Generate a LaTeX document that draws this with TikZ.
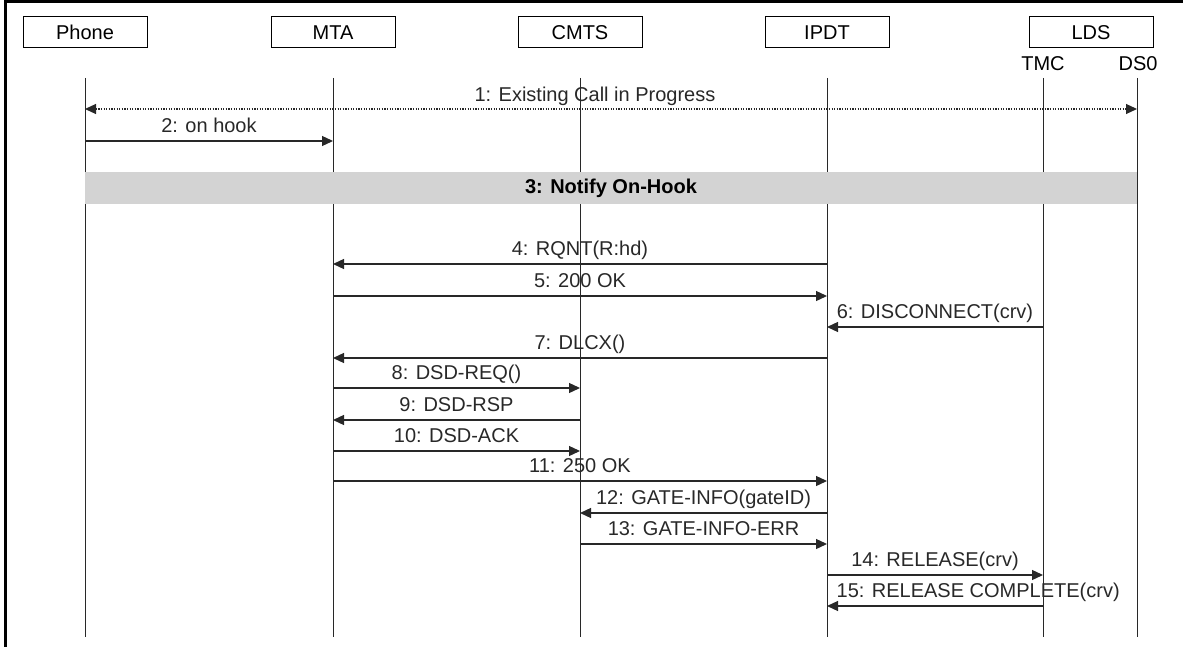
\documentclass[tikz,border=0pt]{standalone}
\usepackage{fontspec}
\setmainfont{Liberation Sans}
\usetikzlibrary{arrows.meta,positioning,calc}
\definecolor{bandcolor}{RGB}{211,211,211}
\definecolor{bordercolor}{RGB}{0,0,0}
\definecolor{lifecolor}{RGB}{40,40,40}
\tikzset{
    actor/.style={
        rectangle,
        draw=bordercolor,
        line width=1pt,
        minimum width=124pt,
        minimum height=31pt,
        inner sep=0pt,
        font=\fontsize{20}{24}\selectfont
    },
    sublabel/.style={inner sep=0pt, font=\fontsize{20}{24}\selectfont},
    lifeline/.style={draw=lifecolor, line width=1pt},
    msg/.style={->, >={Triangle[length=11pt,width=10pt]}, line width=1.3pt, color=lifecolor},
    callmsg/.style={<->, >={Triangle[length=11pt,width=10pt]}, line width=1.1pt, dash pattern=on 1.3pt off 1.3pt, color=lifecolor},
    lbl/.style={anchor=south, inner sep=0pt, text depth=0pt, yshift=8pt, font=\fontsize{20}{24}\selectfont},
    band/.style={fill=bandcolor, draw=none}
}
\begin{document}
\begin{tikzpicture}[x=1pt, y=-1pt]
    \useasboundingbox (0,0) rectangle (1183,647);
    % Frame
    \draw[line width=3pt] (1190,1.5) -- (5.5,1.5) -- (5.5,650);

    % Actors
    \node[actor] (phone) at (85,32.5) {Phone};
    \node[actor] (mta) at (333,32.5) {MTA};
    \node[actor] (cmts) at (580,32.5) {CMTS};
    \node[actor] (ipdt) at (827,32.5) {IPDT};
    \node[actor] (lds) at (1091,32.5) {LDS};
    \node[sublabel] (tmc) at (1043,64) {TMC};
    \node[sublabel] (dso) at (1138,64) {DS0};

    % Rows
    \coordinate (top) at (0,78);
    \coordinate (bot) at (0,637);
    \coordinate (r1) at (0,109);
    \coordinate (r2) at (0,141);
    \coordinate (r4) at (0,264);
    \coordinate (r5) at (0,296);
    \coordinate (r6) at (0,327);
    \coordinate (r7) at (0,358);
    \coordinate (r8) at (0,388);
    \coordinate (r9) at (0,420);
    \coordinate (r10) at (0,451);
    \coordinate (r11) at (0,481);
    \coordinate (r12) at (0,513);
    \coordinate (r13) at (0,544);
    \coordinate (r14) at (0,575);
    \coordinate (r15) at (0,606);

    % Lifelines
    \draw[lifeline] (phone |- top) -- (phone |- bot);
    \draw[lifeline] (mta |- top) -- (mta |- bot);
    \draw[lifeline] (cmts |- top) -- (cmts |- bot);
    \draw[lifeline] (ipdt |- top) -- (ipdt |- bot);
    \draw[lifeline] (tmc |- top) -- (tmc |- bot);
    \draw[lifeline] (1137,78) coordinate (dsotop) -- (1137,637) coordinate (dsobot);

    % Band
    \fill[band] (phone |- 0,172) rectangle (dsotop |- 0,204);
    \node[font=\fontsize{20}{24}\selectfont\bfseries] (notify) at ($(phone |- 0,188)!0.5!(dsotop |- 0,188)$) {3: Notify On-Hook};

    % Messages
    \draw[callmsg] (phone |- r1) -- node[lbl, yshift=-1pt, xshift=-16pt] {1: Existing Call in Progress} (dsotop |- r1);
    \draw[msg] (phone |- r2) -- node[lbl] {2: on hook} (mta |- r2);
    \draw[msg] (ipdt |- r4) -- node[lbl] {4: RQNT(R:hd)} (mta |- r4);
    \draw[msg] (mta |- r5) -- node[lbl] {5: 200 OK} (ipdt |- r5);
    \draw[msg] (tmc |- r6) -- node[lbl] {6: DISCONNECT(crv)} (ipdt |- r6);
    \draw[msg] (ipdt |- r7) -- node[lbl] {7: DLCX()} (mta |- r7);
    \draw[msg] (mta |- r8) -- node[lbl] {8: DSD-REQ()} (cmts |- r8);
    \draw[msg] (cmts |- r9) -- node[lbl] {9: DSD-RSP} (mta |- r9);
    \draw[msg] (mta |- r10) -- node[lbl] {10: DSD-ACK} (cmts |- r10);
    \draw[msg] (mta |- r11) -- node[lbl] {11: 250 OK} (ipdt |- r11);
    \draw[msg] (ipdt |- r12) -- node[lbl] {12: GATE-INFO(gateID)} (cmts |- r12);
    \draw[msg] (cmts |- r13) -- node[lbl] {13: GATE-INFO-ERR} (ipdt |- r13);
    \draw[msg] (ipdt |- r14) -- node[lbl] {14: RELEASE(crv)} (tmc |- r14);
    \draw[msg] (tmc |- r15) -- node[lbl, at end, anchor=south west, xshift=9pt] {15: RELEASE COMPLETE(crv)} (ipdt |- r15);
\end{tikzpicture}
\end{document}
